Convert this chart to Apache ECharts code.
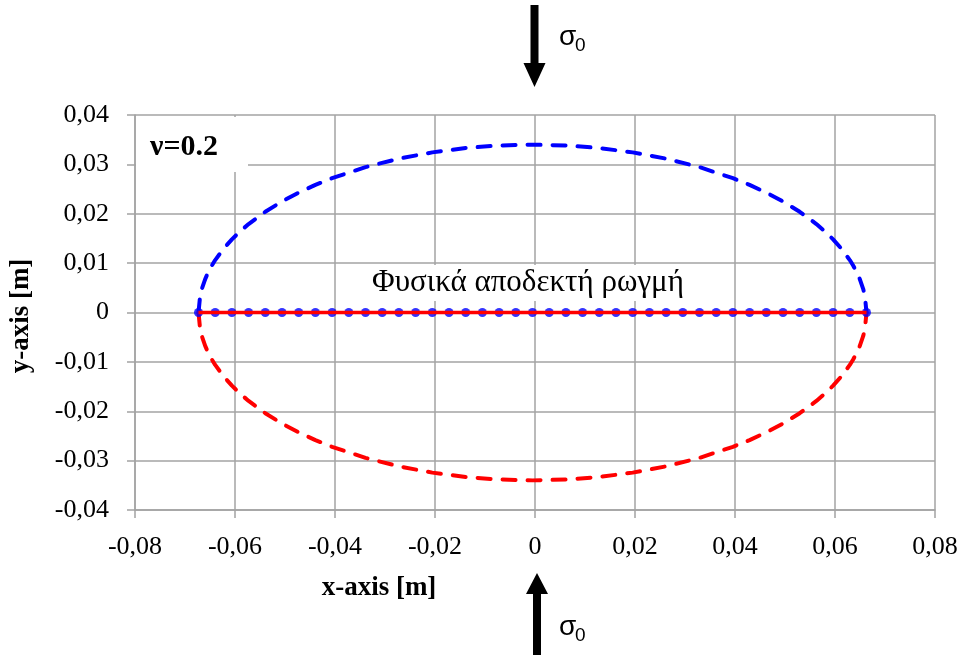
<!DOCTYPE html>
<html>
<head>
<meta charset="utf-8">
<script src="https://cdn.jsdelivr.net/npm/echarts@6/dist/echarts.min.js"></script>
<style>
  html, body { margin: 0; padding: 0; background: #ffffff; }
  #chart { width: 964px; height: 657px; }
</style>
</head>
<body>
<div id="chart"></div>
<script>
// Crack faces of an elliptical crack under far-field compression (ν = 0.2)

// x positions along the crack faces (denser near the tips)
const faceX = [
  -0.06730, -0.06697, -0.06663, -0.06596, -0.06530, -0.06463, -0.06396, -0.06229,
  -0.06062, -0.05895, -0.05728, -0.05394, -0.05060, -0.04726, -0.04392, -0.04058,
  -0.03390, -0.02722, -0.02054, -0.01386, -0.00718, -0.00050,  0.00618,  0.01286,
   0.01954,  0.02622,  0.03290,  0.03958,  0.04292,  0.04626,  0.04960,  0.05294,
   0.05628,  0.05795,  0.05962,  0.06129,  0.06296,  0.06363,  0.06430,  0.06496,
   0.06563,  0.06597,  0.06630
];
// upper crack face (blue, dashed)
const upperY = [
  0.00000, 0.00340, 0.00480, 0.00677, 0.00827, 0.00952, 0.01062, 0.01292,
  0.01482, 0.01646, 0.01791, 0.02040, 0.02249, 0.02428, 0.02584, 0.02720,
  0.02944, 0.03116, 0.03243, 0.03331, 0.03383, 0.03400, 0.03383, 0.03331,
  0.03243, 0.03116, 0.02944, 0.02720, 0.02584, 0.02428, 0.02249, 0.02040,
  0.01791, 0.01646, 0.01482, 0.01292, 0.01062, 0.00952, 0.00827, 0.00677,
  0.00480, 0.00340, 0.00000
];
// lower crack face (red, dashed)
const lowerY = [
  -0.00000, -0.00340, -0.00480, -0.00677, -0.00827, -0.00952, -0.01062, -0.01292,
  -0.01482, -0.01646, -0.01791, -0.02040, -0.02249, -0.02428, -0.02584, -0.02720,
  -0.02944, -0.03116, -0.03243, -0.03331, -0.03383, -0.03400, -0.03383, -0.03331,
  -0.03243, -0.03116, -0.02944, -0.02720, -0.02584, -0.02428, -0.02249, -0.02040,
  -0.01791, -0.01646, -0.01482, -0.01292, -0.01062, -0.00952, -0.00827, -0.00677,
  -0.00480, -0.00340, -0.00000
];

// physically admissible (closed) crack: nodes lying on y = 0
const nodeX = [
  -0.06730, -0.06396, -0.06062, -0.05728, -0.05394, -0.05060, -0.04726, -0.04392,
  -0.04058, -0.03724, -0.03390, -0.03056, -0.02722, -0.02388, -0.02054, -0.01720,
  -0.01386, -0.01052, -0.00718, -0.00384, -0.00050,  0.00284,  0.00618,  0.00952,
   0.01286,  0.01620,  0.01954,  0.02288,  0.02622,  0.02956,  0.03290,  0.03624,
   0.03958,  0.04292,  0.04626,  0.04960,  0.05294,  0.05628,  0.05962,  0.06296,
   0.06630
];
const nodeY = [
  0, 0, 0, 0, 0, 0, 0, 0, 0, 0, 0, 0, 0, 0, 0, 0, 0, 0, 0, 0, 0,
  0, 0, 0, 0, 0, 0, 0, 0, 0, 0, 0, 0, 0, 0, 0, 0, 0, 0, 0, 0
];
const closedLineX = [-0.06730, 0.06630];
const closedLineY = [0, 0];

const xRange = { min: -0.08, max: 0.08, step: 0.02 };
const yRange = { min: -0.04, max: 0.04, step: 0.01 };

const zip = (xs, ys) => xs.map((x, i) => [x, ys[i]]);
const commaFmt = v => (Math.abs(v) < 1e-12 ? '0' : v.toFixed(2).replace('.', ','));

const SERIF = "'Liberation Serif', 'DejaVu Serif', 'Times New Roman', serif";
const SANS = "'Liberation Sans', Arial, sans-serif";
const GRID_COLOR = '#a3a3a3';

const chart = echarts.init(document.getElementById('chart'), null, { renderer: 'canvas' });

chart.setOption({
  backgroundColor: '#ffffff',
  animation: false,
  grid: { left: 135, right: 29, top: 115, bottom: 147, containLabel: false },
  xAxis: {
    type: 'value',
    min: xRange.min, max: xRange.max, interval: xRange.step,
    axisLine: { show: true, onZero: false, lineStyle: { color: GRID_COLOR, width: 1.5 } },
    axisTick: { show: true, length: 8, lineStyle: { color: GRID_COLOR, width: 1.5 } },
    splitLine: { show: true, lineStyle: { color: GRID_COLOR, width: 1.5 } },
    axisLabel: { formatter: commaFmt, color: '#000', fontFamily: SERIF, fontSize: 26, margin: 24 }
  },
  yAxis: {
    type: 'value',
    min: yRange.min, max: yRange.max, interval: yRange.step,
    axisLine: { show: true, onZero: false, lineStyle: { color: GRID_COLOR, width: 1.5 } },
    axisTick: { show: true, length: 8, lineStyle: { color: GRID_COLOR, width: 1.5 } },
    splitLine: { show: true, lineStyle: { color: GRID_COLOR, width: 1.5 } },
    axisLabel: { formatter: commaFmt, color: '#000', fontFamily: SERIF, fontSize: 26, margin: 26 }
  },
  series: [
    {
      name: 'upper face',
      type: 'line',
      data: zip(faceX, upperY),
      showSymbol: false,
      smooth: false,
      lineStyle: { color: '#0000ff', width: 4, type: [13, 12], cap: 'round', join: 'round' },
      z: 2
    },
    {
      name: 'lower face',
      type: 'line',
      data: zip(faceX, lowerY),
      showSymbol: false,
      smooth: false,
      lineStyle: { color: '#ff0000', width: 4, type: [13, 12], cap: 'round', join: 'round' },
      z: 2
    },
    {
      name: 'closed crack nodes',
      type: 'scatter',
      data: zip(nodeX, nodeY),
      symbol: 'circle',
      symbolSize: 9,
      itemStyle: { color: '#0000ff' },
      z: 3
    },
    {
      name: 'closed crack',
      type: 'line',
      data: zip(closedLineX, closedLineY),
      showSymbol: false,
      lineStyle: { color: '#ff0000', width: 3.5 },
      z: 4
    }
  ],
  graphic: [
    // ν label box
    { type: 'rect', shape: { x: 136, y: 117, width: 112, height: 55 }, style: { fill: '#ffffff' }, z: 10 },
    { type: 'text', x: 150, y: 147, style: { text: 'ν=0.2', font: `bold 30px ${SERIF}`, fill: '#000', textAlign: 'left', textVerticalAlign: 'middle' }, z: 11 },
    // caption over the closed crack
    { type: 'rect', shape: { x: 356, y: 265, width: 348, height: 36 }, style: { fill: '#ffffff' }, z: 10 },
    { type: 'text', x: 528, y: 283, style: { text: 'Φυσικά αποδεκτή ρωγμή', font: `31px ${SERIF}`, fill: '#000', textAlign: 'center', textVerticalAlign: 'middle' }, z: 11 },
    // axis titles
    { type: 'text', x: 379, y: 588, style: { text: 'x-axis [m]', font: `bold 27px ${SERIF}`, fill: '#000', textAlign: 'center', textVerticalAlign: 'middle' }, z: 11 },
    { type: 'text', x: 21, y: 316, rotation: Math.PI / 2, style: { text: 'y-axis [m]', font: `bold 27px ${SERIF}`, fill: '#000', textAlign: 'center', textVerticalAlign: 'middle' }, z: 11 },
    // applied stress arrows
    { type: 'polygon', shape: { points: [[530.5, 5], [538.5, 5], [538.5, 63], [545.5, 63], [534.5, 87], [523.5, 63], [530.5, 63]] }, style: { fill: '#000' }, z: 11 },
    { type: 'text', x: 559, y: 37, style: { text: 'σ', font: `28px ${SANS}`, fill: '#000', textAlign: 'left', textVerticalAlign: 'middle' }, z: 11 },
    { type: 'text', x: 575, y: 46, style: { text: '0', font: `19px ${SANS}`, fill: '#000', textAlign: 'left', textVerticalAlign: 'middle' }, z: 11 },
    { type: 'polygon', shape: { points: [[537, 573], [548, 594], [541, 594], [541, 655], [533, 655], [533, 594], [526, 594]] }, style: { fill: '#000' }, z: 11 },
    { type: 'text', x: 559, y: 627, style: { text: 'σ', font: `28px ${SANS}`, fill: '#000', textAlign: 'left', textVerticalAlign: 'middle' }, z: 11 },
    { type: 'text', x: 575, y: 636, style: { text: '0', font: `19px ${SANS}`, fill: '#000', textAlign: 'left', textVerticalAlign: 'middle' }, z: 11 }
  ]
});
</script>
</body>
</html>
